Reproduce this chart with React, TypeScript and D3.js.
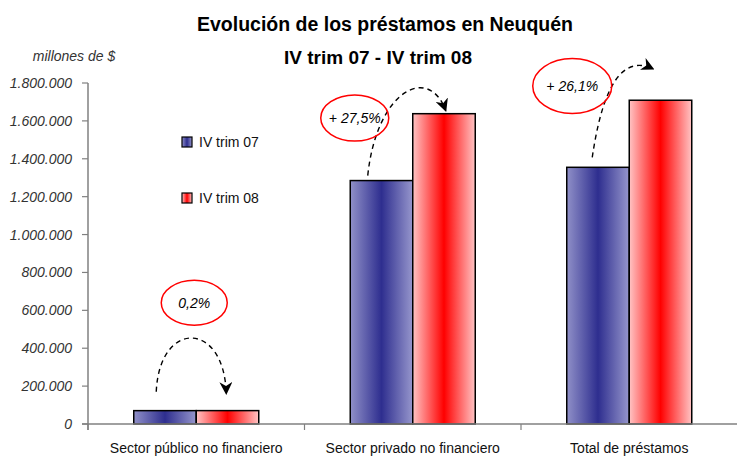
import React from "react";
import * as d3 from "d3";

const categories = ["Sector público no financiero", "Sector privado no financiero", "Total de préstamos"];
const seriesNames = ["IV trim 07", "IV trim 08"];
const trim07 = [70500, 1285000, 1355000];
const trim08 = [70650, 1638000, 1709000];
const changeLabels = ["0,2%", "+  27,5%", "+  26,1%"];
const yTicks = [0, 200000, 400000, 600000, 800000, 1000000, 1200000, 1400000, 1600000, 1800000];

const W = 737;
const H = 459;

const fmt = (v: number) => (v === 0 ? "0" : d3.format(",")(v).replace(/,/g, "."));

export default function App() {
  const x = d3.scaleBand<string>().domain(categories).range([88, 737.5]).paddingInner(0).paddingOuter(0);
  const xs = d3.scaleBand<string>().domain(seriesNames).range([0, x.bandwidth()]).paddingInner(0).paddingOuter(0.732);
  const y = d3.scaleLinear().domain([0, 1800000]).range([424, 83]);
  const series = [trim07, trim08];
  const grads = ["gBlue", "gRed"];
  const font = "'Liberation Sans', Arial, sans-serif";
  const cx = (i: number) => (x(categories[i]) as number) + x.bandwidth() / 2;

  // annotation layout (offsets relative to category centre)
  const ell = [
    { dx: -2, cy: y(640000), rx: 33, ry: 22.5 },
    { dx: -58, cy: 118, rx: 34, ry: 23 },
    { dx: -57, cy: 86, rx: 39.5, ry: 27.5 },
  ];
  const arcs = [
    (c: number) => `M ${c - 40} ${y(170000)} C ${c - 37} ${y(550000)}, ${c + 28} ${y(550000)}, ${c + 30} ${y(160000)}`,
    (c: number) => `M ${c - 45} ${y(trim07[1]) - 5} C ${c - 36} ${90}, ${c + 16} ${64}, ${c + 33} ${y(trim08[1]) - 3}`,
    (c: number) => `M ${c - 37} ${y(trim07[2]) - 10} C ${c - 30} ${110}, ${c - 15} ${50}, ${c + 24} ${69}`,
  ];

  return (
    <svg width={W} height={H} style={{ position: "absolute", left: 0, top: 0, background: "#fff" }}>
      <defs>
        <linearGradient id="gBlue" x1="0" x2="1" y1="0" y2="0">
          <stop offset="0" stopColor="#9090c8" />
          <stop offset="0.5" stopColor="#2e2e8f" />
          <stop offset="1" stopColor="#9696cc" />
        </linearGradient>
        <linearGradient id="gRed" x1="0" x2="1" y1="0" y2="0">
          <stop offset="0" stopColor="#ffc4c4" />
          <stop offset="0.5" stopColor="#ff0000" />
          <stop offset="1" stopColor="#ffc4c4" />
        </linearGradient>
        <marker id="arrow" viewBox="0 0 10 10" refX="9" refY="5" markerWidth="13" markerHeight="13" markerUnits="userSpaceOnUse" orient="auto">
          <path d="M0,0 L10,5 L0,10 L3,5 z" fill="#000" />
        </marker>
      </defs>

      {/* Title */}
      <text x={385} y={31} textAnchor="middle" fontFamily={font} fontWeight="bold" fontSize={19.5} fill="#000">
        Evolución de los préstamos en Neuquén
      </text>
      <text x={378} y={64} textAnchor="middle" fontFamily={font} fontWeight="bold" fontSize={19} fill="#000">
        IV trim 07 - IV trim 08
      </text>
      <text x={74} y={61} textAnchor="middle" fontFamily={font} fontStyle="italic" fontSize={14} fill="#333">
        millones de $
      </text>

      {/* Y axis */}
      <line x1={88} x2={88} y1={y(1800000)} y2={430} stroke="#808080" strokeWidth={1.5} />
      {yTicks.map((t) => (
        <g key={t}>
          <line x1={82} x2={88} y1={y(t)} y2={y(t)} stroke="#808080" strokeWidth={1.2} />
          <text x={72} y={y(t) + 5} textAnchor="end" fontFamily={font} fontStyle="italic" fontSize={14} fill="#333">
            {fmt(t)}
          </text>
        </g>
      ))}

      {/* Bars */}
      {categories.map((c, i) => (
        <g key={c}>
          {series.map((s, j) => {
            const bx = (x(c) as number) + (xs(seriesNames[j]) as number);
            return (
              <rect key={j} x={bx} y={y(s[i])} width={xs.bandwidth()} height={y(0) - y(s[i])}
                fill={`url(#${grads[j]})`} stroke="#000" strokeWidth={1.5} />
            );
          })}
        </g>
      ))}

      {/* X axis */}
      <line x1={82} x2={737} y1={y(0)} y2={y(0)} stroke="#808080" strokeWidth={1.5} />
      {categories.map((c) => (
        <line key={c} x1={x(c) as number} x2={x(c) as number} y1={y(0)} y2={y(0) + 6} stroke="#808080" strokeWidth={1.2} />
      ))}
      {categories.map((c, i) => (
        <text key={c} x={cx(i)} y={453} textAnchor="middle" fontFamily={font} fontSize={14} fill="#111">
          {c}
        </text>
      ))}

      {/* Legend */}
      {seriesNames.map((n, j) => (
        <g key={n} transform={`translate(182, ${137 + j * 56})`}>
          <rect x={0} y={0} width={10} height={10} fill={`url(#${grads[j]})`} stroke="#000" strokeWidth={1.2} />
          <text x={17} y={10} fontFamily={font} fontSize={14} fill="#111">{n}</text>
        </g>
      ))}

      {/* Annotations */}
      {categories.map((c, i) => (
        <g key={c}>
          <path d={arcs[i](cx(i))} fill="none" stroke="#000" strokeWidth={1.4} strokeDasharray="5,4" markerEnd="url(#arrow)" />
          <ellipse cx={cx(i) + ell[i].dx} cy={ell[i].cy} rx={ell[i].rx} ry={ell[i].ry} fill="none" stroke="#ff0000" strokeWidth={1.5} />
          <text x={cx(i) + ell[i].dx} y={ell[i].cy + 5} textAnchor="middle" fontFamily={font} fontStyle="italic" fontSize={14} fill="#000">
            {changeLabels[i]}
          </text>
        </g>
      ))}
    </svg>
  );
}
